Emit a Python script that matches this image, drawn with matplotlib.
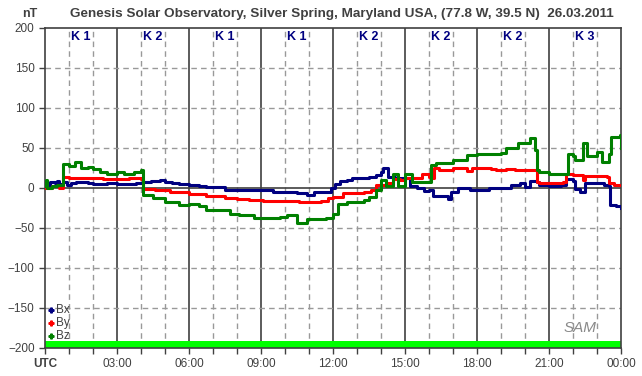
import matplotlib.pyplot as plt

plt.rcParams['font.family'] = ['Liberation Sans', 'DejaVu Sans']

# readings (hours UTC, nT)
bx_t = [0.0, 0.2, 0.4, 0.5, 0.6, 0.75, 0.9, 1.1, 1.3, 1.6, 1.8, 2.0, 2.3, 2.6, 3.0, 3.4, 3.8,
        4.1, 4.4, 4.8, 5.0, 5.3, 5.6, 6.0, 6.4, 6.7, 7.2, 7.5, 8.0, 8.5, 9.0, 9.5, 10.0, 10.5,
        10.9, 11.2, 11.6, 11.9, 12.1, 12.3, 12.6, 12.8, 13.2, 13.5, 13.8, 14.0, 14.1, 14.3,
        14.6, 14.9, 15.2, 15.5, 15.8, 16.0, 16.15, 16.5, 16.8, 16.9, 17.2, 17.7, 18.2, 18.5,
        19.0, 19.4, 19.8, 20.0, 20.2, 20.5, 20.6, 21.0, 21.5, 21.7, 22.0, 22.1, 22.3, 22.5,
        23.0, 23.3, 23.5, 23.55, 23.8, 24.0]
bx_v = [4, 7, 6, 9, 5, 7, 4, 6, 8, 7, 6, 5, 5, 6, 5, 5, 6,
        8, 9, 10, 8, 6, 5, 4, 3, 1, 1, -2, -2, -3, -2, -5, -5, -6,
        -9, -5, -5, 0, 5, 9, 10, 13, 13, 14, 16, 20, 25, 14,
        12, 12, 2, 0, -4, -3, -10, -10, -14, -5, 0, -3, -2, 0,
        0, 4, 6, 1, 9, 8, 4, 3, 4, 11, 9, -1, -5, 6,
        6, 4, 2, -21, -22, -25]

by_t = [0.0, 0.3, 0.6, 0.74, 1.0, 1.3, 2.0, 2.4, 3.0, 3.5, 4.0, 4.1, 4.6, 5.2, 6.0, 6.7, 7.5,
        8.0, 8.5, 9.1, 10.0, 10.6, 11.0, 11.5, 11.8, 12.0, 12.4, 13.3, 13.6, 13.8, 14.2, 14.5,
        14.8, 15.0, 15.4, 15.7, 16.0, 16.1, 16.2, 16.4, 17.0, 17.6, 17.8, 18.6, 18.8, 19.2,
        19.6, 20.0, 20.4, 20.5, 20.6, 21.6, 21.7, 22.0, 22.4, 22.5, 23.4, 23.5, 23.7, 24.0]
by_v = [0, 2, 0, 14, 13, 12, 12, 11, 11, 12, 11, -1, -2, -5, -7, -10, -13,
        -14, -15, -16, -16, -18, -17, -16, -13, -11, -6, -5, -2, 4, 6, 11,
        10, 12, 13, 17, 14, 12, 25, 22, 25, 21, 25, 24, 22, 24,
        22, 23, 22, 8, 6, 7, 18, 16, 10, 15, 14, 6, 4, 4]

bz_t = [0.0, 0.05, 0.1, 0.3, 0.5, 0.74, 1.0, 1.25, 1.5, 1.8, 2.0, 2.3, 2.6, 3.0, 3.3, 3.7, 4.0,
        4.1, 4.5, 5.0, 5.6, 6.0, 6.4, 6.7, 7.5, 7.7, 8.1, 8.7, 9.8, 10.1, 10.5, 10.9, 11.7,
        12.0, 12.2, 12.6, 13.3, 13.5, 13.8, 14.0, 14.2, 14.5, 14.7, 15.0, 15.3, 15.6, 16.0,
        16.1, 16.3, 17.0, 17.6, 18.0, 19.0, 19.2, 19.7, 20.2, 20.4, 20.5, 20.6, 21.0, 21.7,
        21.8, 22.0, 22.1, 22.4, 22.6, 23.0, 23.2, 23.5, 23.6, 23.95, 24.0]
bz_v = [3, 10, 0, 2, 4, 30, 28, 32, 25, 26, 24, 20, 17, 20, 18, 20, 22,
        -9, -12, -18, -21, -20, -22, -27, -28, -33, -34, -38, -36, -34, -44, -39, -38,
        -32, -20, -17, -15, -11, -2, 10, 3, 17, 3, 18, 8, 7, 8,
        29, 31, 35, 41, 43, 44, 50, 56, 62, 47, 22, 20, 18, 18,
        43, 40, 35, 56, 40, 45, 33, 43, 64, 66, 50]

k_labels = ['K 1', 'K 2', 'K 1', 'K 1', 'K 2', 'K 2', 'K 2', 'K 3']
x_labels = ['UTC', '03:00', '06:00', '09:00', '12:00', '15:00', '18:00', '21:00', '00:00']
y_ticks = [-200, -150, -100, -50, 0, 50, 100, 150, 200]

txt = '#404040'
fig = plt.figure(figsize=(6.42, 3.76), dpi=100)
ax = fig.add_axes([45 / 642, 1 - 348 / 376, 576 / 642, 320 / 376])
ax.set_xlim(0, 24)
ax.set_ylim(-200, 200)

for h in range(1, 24):
    if h % 3 == 0:
        ax.axvline(h, color='#404040', lw=1.2, zorder=1)
    else:
        ax.axvline(h, color='#999999', lw=1, ls=(0, (4, 3)), zorder=1)
for v in y_ticks[1:-1]:
    if v == 0:
        ax.axhline(v, color='#404040', lw=1.2, zorder=1)
    else:
        ax.axhline(v, color='#999999', lw=1, ls=(0, (4, 3)), zorder=1)

ax.axhspan(-200, -191, color='#00ff00', zorder=2, lw=0)

ax.plot(bx_t, bx_v, color='#000080', lw=2.2, zorder=3, drawstyle='steps-post')
ax.plot(by_t, by_v, color='#ff0000', lw=2.2, zorder=3, drawstyle='steps-post')
ax.plot(bz_t, bz_v, color='#008000', lw=2.2, zorder=3, drawstyle='steps-post')

for i, lab in enumerate(k_labels):
    ax.text(3 * i + 1.5, 189, lab, ha='center', va='center', fontsize=9,
            fontweight='bold', color='#000080')

for i, (lab, c) in enumerate(zip(['Bx', 'By', 'Bz'], ['#000080', '#ff0000', '#008000'])):
    yv = -153 - i * 16
    ax.plot(0.25, yv, marker='P', ms=3.5, color=c, zorder=4)
    ax.text(0.45, yv, lab, va='center', ha='left', fontsize=8.5, color=txt)

ax.text(22.3, -175, 'SAM', fontsize=11, fontstyle='italic', color='#8a8a8a',
        ha='center', va='center')

ax.set_xticks(range(0, 25))
ax.set_xticklabels([x_labels[h // 3] if h % 3 == 0 else '' for h in range(25)])
ax.get_xticklabels()[0].set_fontweight('bold')
ax.set_yticks(y_ticks)
ax.tick_params(axis='both', direction='out', length=4, width=1, color='#404040',
               labelsize=8.5, labelcolor=txt)
ax.tick_params(axis='x', pad=3)
for s in ax.spines.values():
    s.set_color('#404040')
    s.set_linewidth(1.2)

fig.text(30 / 642, 1 - 14 / 376, 'nT', fontsize=9, fontweight='bold', color=txt,
         ha='center', va='center')
fig.text(342 / 642, 1 - 14 / 376,
         'Genesis Solar Observatory, Silver Spring, Maryland USA, (77.8 W, 39.5 N)  26.03.2011',
         fontsize=9.7, fontweight='bold', color=txt, ha='center', va='center')

fig.savefig('out.png', dpi=100, facecolor='white')
